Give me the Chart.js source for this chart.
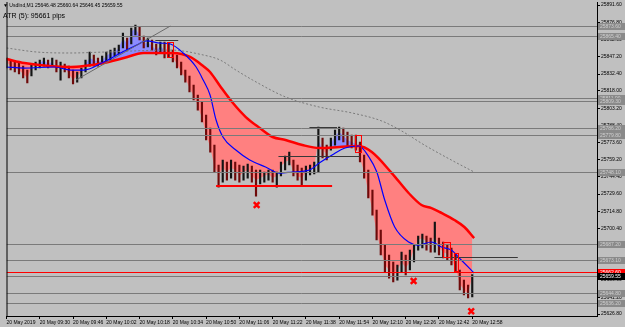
<!DOCTYPE html>
<html>
<head>
<meta charset="utf-8">
<script src="https://cdn.jsdelivr.net/npm/chart.js@4"></script>
<style>
  html, body { margin: 0; padding: 0; background: #c0c0c0; }
  #wrap { position: relative; width: 625px; height: 327px; }
  canvas { display: block; }
  .info { position: absolute; left: 3px; font-family: 'Liberation Sans', Arial, sans-serif; color: #000; white-space: nowrap; }
  #simbolo { top: 2px; font-size: 5px; }
  #atr { top: 12px; font-size: 7px; }
</style>
</head>
<body>
<div id="wrap">
  <canvas id="grafico" width="625" height="327"></canvas>
  <div class="info" id="simbolo">▼ UsdInd,M1  25646.48 25660.64 25646.45 25659.55</div>
  <div class="info" id="atr">ATR (5): 95661 pips</div>
</div>
<script>
// ------------------------
// Dados (minutos desde 09:14, barras de 2 em 2 minutos)
// ------------------------

const timeTicks = [0, 16, 32, 48, 64, 80, 96, 112, 128, 144, 160, 176, 192, 208, 224];
const timeLabels = ['20 May 2019', '20 May 09:30', '20 May 09:46', '20 May 10:02', '20 May 10:18',
  '20 May 10:34', '20 May 10:50', '20 May 11:06', '20 May 11:22', '20 May 11:38', '20 May 11:54',
  '20 May 12:10', '20 May 12:26', '20 May 12:42', '20 May 12:58'];

const priceTicks = [25626.8, 25641.2, 25656.0, 25670.8, 25685.6, 25700.4, 25714.8, 25729.6, 25744.4,
  25759.2, 25773.6, 25788.4, 25803.2, 25818.0, 25832.4, 25847.2, 25862.0, 25876.8, 25891.6];

const highs = [25846.2, 25844.5, 25842.8, 25841.9, 25839.3, 25835.9, 25840.2, 25842.8, 25844.5, 25846.2,
  25844.5, 25846.2, 25844.5, 25842.8, 25841.1, 25839.3, 25835.9, 25834.2, 25837.6, 25844.5,
  25851.3, 25848.8, 25846.2, 25847.9, 25851.3, 25853.0, 25854.8, 25857.3, 25867.6, 25863.3,
  25871.9, 25874.5, 25872.8, 25865.0, 25863.3, 25861.6, 25858.2, 25859.9, 25859.9, 25859.0,
  25853.0, 25848.8, 25842.8, 25835.9, 25830.8, 25823.1, 25814.5, 25808.5, 25797.3, 25786.2,
  25771.6, 25754.5, 25758.8, 25757.1, 25758.8, 25757.1, 25754.5, 25753.6, 25755.3, 25753.6,
  25750.2, 25750.2, 25748.5, 25750.2, 25750.2, 25748.5, 25757.1, 25762.2, 25765.6, 25758.8,
  25754.5, 25751.9, 25753.6, 25754.5, 25757.1, 25787.1, 25777.6, 25771.6, 25777.6, 25784.5,
  25787.1, 25786.2, 25782.8, 25780.2, 25780.2, 25774.2, 25763.1, 25750.2, 25733.1, 25715.9,
  25698.8, 25685.9, 25677.4, 25671.4, 25668.8, 25679.9, 25677.4, 25681.6, 25685.9, 25693.6,
  25695.4, 25693.6, 25691.9, 25705.6, 25691.9, 25688.5, 25685.9, 25683.4, 25678.2, 25664.5,
  25655.9, 25651.6, 25660.6];

const lows = [25837.6, 25835.9, 25834.2, 25832.5, 25829.1, 25824.8, 25830.8, 25835.9, 25837.6, 25839.3,
  25837.6, 25839.3, 25834.2, 25827.3, 25834.2, 25829.1, 25823.9, 25825.6, 25829.1, 25834.2,
  25839.3, 25839.3, 25839.3, 25841.1, 25842.8, 25844.5, 25847.9, 25849.6, 25854.8, 25853.0,
  25858.2, 25865.9, 25861.6, 25854.8, 25855.6, 25853.0, 25848.8, 25851.3, 25846.2, 25847.1,
  25842.8, 25837.6, 25831.6, 25825.6, 25817.1, 25810.2, 25801.6, 25791.4, 25775.9, 25765.6,
  25748.5, 25735.6, 25739.9, 25741.6, 25743.3, 25741.6, 25739.9, 25741.6, 25743.3, 25739.9,
  25727.9, 25738.2, 25739.9, 25741.6, 25739.9, 25735.6, 25745.1, 25750.2, 25754.5, 25745.1,
  25741.6, 25737.3, 25741.6, 25745.9, 25746.8, 25748.5, 25760.5, 25758.8, 25767.3, 25771.6,
  25775.9, 25774.2, 25770.8, 25769.1, 25767.3, 25757.1, 25743.3, 25726.2, 25711.6, 25690.2,
  25677.4, 25662.8, 25657.6, 25654.2, 25655.9, 25662.8, 25660.2, 25664.5, 25671.4, 25681.6,
  25683.4, 25681.6, 25679.9, 25679.9, 25677.4, 25674.8, 25673.1, 25668.8, 25662.8, 25647.4,
  25643.1, 25640.5, 25641.4];

const closes = [25842.8, 25839.3, 25837.6, 25835.9, 25832.5, 25829.1, 25837.6, 25841.1, 25841.9, 25844.5,
  25841.1, 25842.8, 25835.9, 25839.3, 25837.6, 25832.5, 25827.3, 25830.8, 25834.2, 25841.1,
  25846.2, 25844.5, 25842.8, 25844.5, 25847.9, 25850.5, 25851.3, 25854.8, 25863.3, 25858.2,
  25868.5, 25871.9, 25865.0, 25858.2, 25859.9, 25856.5, 25853.0, 25856.5, 25853.0, 25849.6,
  25846.2, 25841.1, 25834.2, 25829.1, 25820.5, 25813.6, 25805.1, 25794.8, 25781.1, 25769.1,
  25753.6, 25745.1, 25751.9, 25748.5, 25751.9, 25750.2, 25745.1, 25748.5, 25750.2, 25745.1,
  25741.6, 25743.3, 25745.1, 25746.8, 25743.3, 25745.1, 25753.6, 25757.1, 25758.8, 25748.5,
  25745.1, 25743.3, 25748.5, 25750.2, 25753.6, 25775.9, 25767.3, 25763.9, 25772.5, 25779.3,
  25782.8, 25779.3, 25775.9, 25774.2, 25772.5, 25760.5, 25748.5, 25731.4, 25715.9, 25697.1,
  25681.6, 25668.8, 25664.5, 25659.4, 25664.5, 25671.4, 25666.2, 25671.4, 25683.4, 25690.2,
  25691.9, 25688.5, 25686.8, 25693.6, 25683.4, 25679.9, 25678.2, 25673.1, 25666.2, 25652.5,
  25647.4, 25643.9, 25659.55];

// Média lenta (vermelha)
const redMaTime = [0, 8.6, 31, 37.2, 46.8, 56.4, 65.9, 75.5, 80.2, 88.3, 94.6, 97.9, 102.7, 108.9, 115.1,
  121.8, 128, 134.2, 142.3, 150.4, 160, 169.5, 175.7, 185.3, 193.4, 199.6, 204.4, 209.2, 215.4, 220.2, 224.9];
const redMa = [25845.3, 25841.9, 25838.5, 25839.3, 25841.9, 25846.2, 25850.5, 25850.5, 25850.5, 25847.1,
  25839.3, 25834.2, 25822.2, 25807.6, 25795.6, 25786.2, 25778.5, 25775.9, 25771.6, 25769.1, 25769.9,
  25770.8, 25765.6, 25747.6, 25730.5, 25720.2, 25717.6, 25713.4, 25707.4, 25701.4, 25691.9];

// Média rápida (azul)
const blueMaTime = [0, 8.6, 22.9, 31, 37.2, 46.8, 54.9, 62.6, 67.3, 74, 78.8, 85, 91.2, 94.6, 97.9, 100.8,
  104.1, 110.3, 117, 124.6, 131.3, 137.5, 145.7, 150.4, 156.6, 162.8, 169.5, 174.3, 178.1, 181.9, 186.7,
  193.4, 198.2, 204.4, 209.2, 213.9, 218.7, 224.9];
const blueMa = [25838.5, 25837.6, 25838.5, 25835.9, 25835.9, 25842.8, 25850.5, 25857.3, 25860.8, 25859.0,
  25858.2, 25850.5, 25838.5, 25827.3, 25814.5, 25793.1, 25778.5, 25767.3, 25758.8, 25752.8, 25747.6,
  25748.5, 25750.2, 25756.2, 25763.1, 25769.1, 25770.8, 25761.4, 25748.5, 25724.5, 25701.4, 25688.5,
  25685.9, 25688.5, 25684.2, 25681.6, 25673.1, 25661.9];

// Média longa (pontilhada cinza)
const greyMaTime = [0, 14.8, 31, 46.8, 78.8, 94.6, 102.7, 110.3, 118.4, 134.2, 150.4, 166.2, 180.5, 190.1, 201, 213.9, 224.9];
const greyMa = [25854.8, 25851.3, 25850.5, 25851.3, 25853.0, 25848.8, 25844.5, 25835.9, 25827.3, 25812.8,
  25804.2, 25799.1, 25792.2, 25783.6, 25771.6, 25758.8, 25748.5];

// Marcas X
const crossTime = [120.3, 195.8, 223.5];
const crossPrice = [25720.2, 25655.1, 25629.2];

// Linhas horizontais e objetos desenhados
const levelPrices = [25873.6, 25865.4, 25811.9, 25809.3, 25786.2, 25779.8, 25748.1, 25687.2, 25673.1, 25644.8, 25636.2];
const bidPrice = 25659.55;
const askPrice = 25662.6;

const trendTime = [33.4, 78.8];
const trendPrice = [25827.3, 25873.6];

const segStart = [71.6, 145.7, 130.8, 205.8];
const segEnd = [82.6, 159.0, 170.0, 245.9];
const segPrice = [25861.6, 25787.1, 25762.2, 25675.7];

const redSegStart = 100.8;
const redSegEnd = 156.6;
const redSegPrice = 25736.5;

const boxStart = [77.4, 167.6, 210.1, 215.4];
const boxEnd = [80.2, 170.5, 213.5, 217.3];
const boxLow = [25847.1, 25765.6, 25675.7, 25663.6];
const boxHigh = [25859.9, 25780.2, 25688.5, 25679.1];

// ------------------------
// Plugin de desenhos (níveis, segmentos, caixas de preço)
// ------------------------

const FONTE = "5px 'Liberation Sans', Arial, sans-serif";
const TOPO = 2;

const desenhos = {
  id: 'desenhos',
  afterLayout(chart) {
    // área do gráfico começa no topo, como no MT4
    const a = chart.chartArea;
    const ys = chart.scales.y;
    if (a.top !== TOPO) {
      a.height += a.top - TOPO;
      a.top = TOPO;
      ys.top = TOPO;
      ys.height = ys.bottom - TOPO;
      ys.configure();
    }
  },
  afterDatasetsDraw(chart) {
    const { ctx, chartArea: a, scales: { x, y } } = chart;
    const py = v => Math.round(y.getPixelForValue(v)) + 0.5;
    ctx.save();
    ctx.beginPath();
    ctx.rect(a.left, a.top, a.right - a.left, a.bottom - a.top);
    ctx.clip();
    ctx.lineWidth = 1;

    ctx.strokeStyle = '#7a7a7a';
    levelPrices.forEach(p => {
      ctx.beginPath(); ctx.moveTo(a.left, py(p)); ctx.lineTo(a.right, py(p)); ctx.stroke();
    });
    ctx.beginPath(); ctx.moveTo(a.left, py(bidPrice)); ctx.lineTo(a.right, py(bidPrice)); ctx.stroke();

    ctx.strokeStyle = '#ff0000';
    ctx.beginPath(); ctx.moveTo(a.left, py(askPrice)); ctx.lineTo(a.right, py(askPrice)); ctx.stroke();

    // linha de tendência
    ctx.strokeStyle = '#6a6a6a';
    ctx.beginPath();
    ctx.moveTo(x.getPixelForValue(trendTime[0]), y.getPixelForValue(trendPrice[0]));
    ctx.lineTo(x.getPixelForValue(trendTime[1]), y.getPixelForValue(trendPrice[1]));
    ctx.stroke();

    // segmentos curtos
    ctx.strokeStyle = '#383838';
    segPrice.forEach((p, i) => {
      ctx.beginPath();
      ctx.moveTo(x.getPixelForValue(segStart[i]), py(p));
      ctx.lineTo(x.getPixelForValue(segEnd[i]), py(p));
      ctx.stroke();
    });

    // suporte vermelho
    ctx.strokeStyle = '#ff0000';
    ctx.lineWidth = 2;
    ctx.beginPath();
    ctx.moveTo(x.getPixelForValue(redSegStart), Math.round(y.getPixelForValue(redSegPrice)));
    ctx.lineTo(x.getPixelForValue(redSegEnd), Math.round(y.getPixelForValue(redSegPrice)));
    ctx.stroke();

    // retângulos vermelhos
    ctx.lineWidth = 1;
    boxStart.forEach((s, i) => {
      const x0 = Math.round(x.getPixelForValue(s)) + 0.5;
      const x1 = Math.round(x.getPixelForValue(boxEnd[i])) + 0.5;
      const y0 = py(boxHigh[i]);
      const y1 = py(boxLow[i]);
      ctx.strokeRect(x0, y0, x1 - x0, y1 - y0);
    });
    ctx.restore();
  },
  afterDraw(chart) {
    const { ctx, chartArea: a, scales: { y } } = chart;
    ctx.save();
    // borda esquerda
    ctx.strokeStyle = '#000';
    ctx.lineWidth = 1;
    ctx.beginPath(); ctx.moveTo(a.left + 0.5, a.top); ctx.lineTo(a.left + 0.5, a.bottom); ctx.stroke();

    // caixas de preço no eixo
    ctx.font = FONTE;
    ctx.textBaseline = 'middle';
    const caixa = (p, fundo, cor) => {
      const yy = Math.round(y.getPixelForValue(p));
      ctx.fillStyle = fundo;
      ctx.fillRect(a.right + 1, yy - 3, 27, 7);
      ctx.fillStyle = cor;
      ctx.fillText(p.toFixed(2), a.right + 3, yy + 0.5);
    };
    levelPrices.forEach(p => caixa(p, '#8a8a8a', '#cfcfcf'));
    caixa(askPrice, '#ff0000', '#ffffff');
    caixa(bidPrice, '#000000', '#ffffff');
    ctx.restore();
  }
};

// ------------------------
// Gráfico
// ------------------------

const pontos = (xs, ys) => xs.map((t, i) => ({ x: t, y: ys[i] }));
const barras = highs.map((h, i) => ({ x: i * 2, y: [lows[i], h] }));
const corBarras = closes.map((c, i) => (i > 0 && c < closes[i - 1]) ? '#6e0a0a' : '#141414');
const fechamentos = closes.map((c, i) => ({ x: i * 2, y: c }));

const ctx = document.getElementById('grafico').getContext('2d');
new Chart(ctx, {
  data: {
    datasets: [
      {
        type: 'line',
        data: fechamentos,
        borderWidth: 0,
        pointRadius: 0,
        fill: { target: 2, above: '#8c8cff', below: '#ff8080' },
        order: 10
      },
      {
        type: 'bar',
        data: barras,
        backgroundColor: corBarras,
        barThickness: 1.5,
        borderWidth: 0,
        order: 5
      },
      {
        type: 'line',
        data: pontos(redMaTime, redMa),
        borderColor: '#ff0000',
        borderWidth: 2.5,
        pointRadius: 0,
        cubicInterpolationMode: 'monotone',
        fill: false,
        order: 2
      },
      {
        type: 'line',
        data: pontos(blueMaTime, blueMa),
        borderColor: '#0000ff',
        borderWidth: 1.2,
        pointRadius: 0,
        cubicInterpolationMode: 'monotone',
        fill: false,
        order: 1
      },
      {
        type: 'line',
        data: pontos(greyMaTime, greyMa),
        borderColor: '#7a7a7a',
        borderWidth: 1,
        borderDash: [2, 2],
        pointRadius: 0,
        cubicInterpolationMode: 'monotone',
        fill: false,
        order: 3
      },
      {
        type: 'scatter',
        data: pontos(crossTime, crossPrice),
        pointStyle: 'crossRot',
        pointRadius: 4,
        borderColor: '#ff0000',
        borderWidth: 2.5,
        order: 0
      }
    ]
  },
  options: {
    responsive: false,
    animation: false,
    events: [],
    layout: { padding: { left: 2, top: 2, right: 0, bottom: 0 } },
    plugins: {
      legend: { display: false },
      tooltip: { enabled: false }
    },
    scales: {
      x: {
        type: 'linear',
        offset: false,
        min: 0,
        max: 284,
        afterBuildTicks: axis => { axis.ticks = timeTicks.map(v => ({ value: v })); },
        afterFit: axis => { axis.height = 11; },
        ticks: {
          align: 'start',
          autoSkip: false,
          maxRotation: 0,
          padding: 1,
          color: '#000',
          font: { family: "'Liberation Sans', Arial, sans-serif", size: 5 },
          callback: v => timeLabels[timeTicks.indexOf(v)]
        },
        grid: { offset: false, drawOnChartArea: false, tickLength: 3, color: '#000' },
        border: { color: '#000' }
      },
      y: {
        position: 'right',
        min: 25625.1,
        max: 25894.2,
        afterBuildTicks: axis => { axis.ticks = priceTicks.map(v => ({ value: v })); },
        afterFit: axis => { axis.width = 28; },
        ticks: {
          padding: 1,
          color: '#000',
          font: { family: "'Liberation Sans', Arial, sans-serif", size: 5 },
          callback: v => v.toFixed(2)
        },
        grid: { drawOnChartArea: false, tickLength: 3, color: '#000' },
        border: { color: '#000' }
      }
    }
  },
  plugins: [desenhos]
});
</script>
</body>
</html>
